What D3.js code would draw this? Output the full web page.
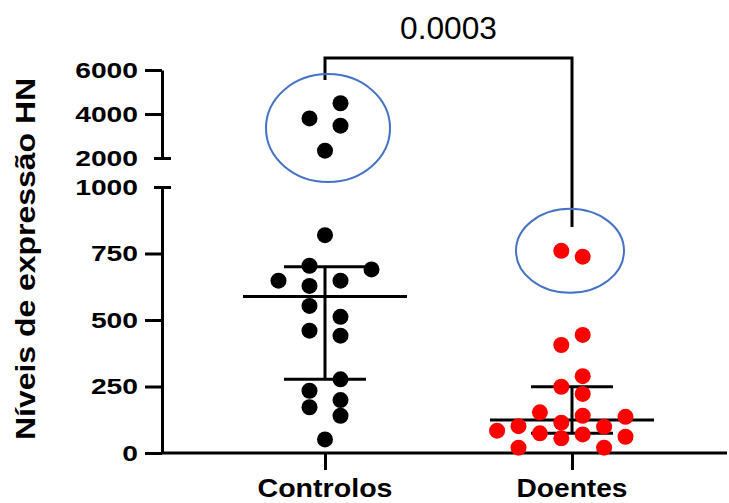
<!DOCTYPE html>
<html>
<head>
<meta charset="utf-8">
<script src="https://cdn.jsdelivr.net/npm/d3@7"></script>
<style>
  html, body { margin: 0; padding: 0; background: #fff; }
  svg { display: block; }
  text { font-family: "Liberation Sans", Arial, sans-serif; }
</style>
</head>
<body>
<svg id="chart" width="729" height="503"></svg>
<script>
// ---------- data ----------
const categories = ["Controlos", "Doentes"];
const controlValues = [172, 234, 460, 553, 628, 704, 140, 199, 277, 441, 512, 648, 648, 690, 51, 819, 3800, 3468, 4490, 2332];
const patientValues = [760, 406, 249, 114, 55, 738, 444, 289, 222, 140, 70, 153, 74, 99, 20, 101, 20, 136, 61, 84];
const medians = [588, 124];
const lowerBars = [277, 74];
const upperBars = [700, 249];
const lowTicks = [0, 250, 500, 750, 1000];
const highTicks = [2000, 4000, 6000];
const pValueLabel = "0.0003";
const yTitle = "Níveis de expressão HN";
const colors = ["#000000", "#ff0000"];

// ---------- layout ----------
const svg = d3.select("#chart");
const axisX = 162;
const x = d3.scalePoint().domain(categories).range([325, 572]);
const yLow = d3.scaleLinear().domain([0, 1000]).range([453, 187]);
const yHigh = d3.scaleLinear().domain([2000, 6000]).range([158, 70]);
const yv = v => v > 1000 ? yHigh(v) : yLow(v);
const halfStep = [15.5, 10.7];
const dotR = 8;
const minDist = 15.4;

// beeswarm placement
function swarm(values, hs) {
  const ys = values.map(yv);
  const placed = [];
  const cands = [-1, 1, -3, 3, -5, 5, -7, 7, -9, 9];
  return values.map((v, i) => {
    const y = ys[i];
    const isolated = ys.every((o, j) => j === i || Math.abs(o - y) >= minDist);
    let off = 0;
    if (!isolated) {
      for (const c of cands) {
        const o = c * hs;
        const ok = placed.every(p => Math.hypot(p.o - o, p.y - y) >= minDist);
        if (ok) { off = o; break; }
      }
    }
    placed.push({o: off, y});
    return {v, y, o: off};
  });
}

const groups = [controlValues, patientValues];

// axes
const tickLen = 17;
const fmt = d3.format("d");
function styleAxis(g) {
  g.selectAll("path.domain").attr("stroke", "#000").attr("stroke-width", 3);
  g.selectAll(".tick line").attr("stroke", "#000").attr("stroke-width", 3);
  g.selectAll(".tick text")
    .attr("font-size", 22).attr("font-weight", "bold").attr("fill", "#000")
    .attr("font-family", "Liberation Sans, Arial, sans-serif")
    .each(function(d) {
      const s = fmt(d);
      d3.select(this).attr("textLength", s.length * 15.7).attr("lengthAdjust", "spacingAndGlyphs");
    });
}

const gLow = svg.append("g").attr("transform", `translate(${axisX},0)`)
  .call(d3.axisLeft(yLow).tickValues(lowTicks).tickFormat(fmt).tickSize(tickLen).tickSizeOuter(0).tickPadding(7));
styleAxis(gLow);
const gHigh = svg.append("g").attr("transform", `translate(${axisX},0)`)
  .call(d3.axisLeft(yHigh).tickValues(highTicks).tickFormat(fmt).tickSize(tickLen).tickSizeOuter(0).tickPadding(7));
styleAxis(gHigh);
// break caps
gLow.selectAll(".tick").filter(d => d === 1000).select("line").attr("x1", -8).attr("x2", 9);
gHigh.selectAll(".tick").filter(d => d === 2000).select("line").attr("x1", -8).attr("x2", 9);

// x axis
const gx = svg.append("g").attr("transform", `translate(0,${yLow(0)})`)
  .call(d3.axisBottom(x).tickSize(tickLen).tickSizeOuter(0).tickPadding(8));
gx.select("path.domain").attr("d", `M${axisX},0H727`).attr("stroke", "#000").attr("stroke-width", 3);
gx.selectAll(".tick line").attr("stroke", "#000").attr("stroke-width", 3);
gx.selectAll(".tick text").remove();
const xLabelLen = [135, 111];
svg.selectAll("text.xlab").data(categories).join("text")
  .attr("class", "xlab")
  .attr("x", d => x(d)).attr("y", 497)
  .attr("text-anchor", "middle")
  .attr("font-size", 26).attr("font-weight", "bold")
  .attr("textLength", (d, i) => xLabelLen[i]).attr("lengthAdjust", "spacingAndGlyphs")
  .text(d => d);

// y title
svg.append("text")
  .attr("transform", "translate(35,259) rotate(-90)")
  .attr("text-anchor", "middle")
  .attr("font-size", 27).attr("font-weight", "bold")
  .attr("textLength", 362).attr("lengthAdjust", "spacingAndGlyphs")
  .text(yTitle);

// error bars (median + bars)
const medW = 82, barW = 41;
categories.forEach((c, i) => {
  const cx = x(c);
  const g = svg.append("g").attr("stroke", "#000").attr("stroke-width", 3);
  g.append("line").attr("x1", cx).attr("x2", cx).attr("y1", yLow(upperBars[i])).attr("y2", yLow(lowerBars[i]));
  g.append("line").attr("x1", cx - medW).attr("x2", cx + medW).attr("y1", yLow(medians[i])).attr("y2", yLow(medians[i]));
  g.append("line").attr("x1", cx - barW).attr("x2", cx + barW).attr("y1", yLow(upperBars[i])).attr("y2", yLow(upperBars[i]));
  g.append("line").attr("x1", cx - barW).attr("x2", cx + barW).attr("y1", yLow(lowerBars[i])).attr("y2", yLow(lowerBars[i]));
});

// dots
groups.forEach((vals, i) => {
  const pts = swarm(vals, halfStep[i]);
  svg.append("g").selectAll("circle").data(pts).join("circle")
    .attr("cx", d => x(categories[i]) + d.o)
    .attr("cy", d => d.y)
    .attr("r", dotR)
    .attr("fill", colors[i]);
});

// significance bracket
const bTop = 58;
svg.append("path")
  .attr("d", `M${x(categories[0])},80V${bTop}H${x(categories[1])}V227`)
  .attr("fill", "none").attr("stroke", "#000").attr("stroke-width", 3);
svg.append("text")
  .attr("x", (x(categories[0]) + x(categories[1])) / 2).attr("y", 39)
  .attr("text-anchor", "middle").attr("font-size", 31)
  .attr("textLength", 97).attr("lengthAdjust", "spacingAndGlyphs")
  .text(pValueLabel);

// highlight ellipses
svg.append("ellipse")
  .attr("cx", x(categories[0]) + 3).attr("cy", yHigh(3360)).attr("rx", 62).attr("ry", 54)
  .attr("fill", "none").attr("stroke", "#4472C4").attr("stroke-width", 2);
svg.append("ellipse")
  .attr("cx", x(categories[1]) - 2).attr("cy", yLow(760)).attr("rx", 54).attr("ry", 42)
  .attr("fill", "none").attr("stroke", "#4472C4").attr("stroke-width", 2);
</script>
</body>
</html>
